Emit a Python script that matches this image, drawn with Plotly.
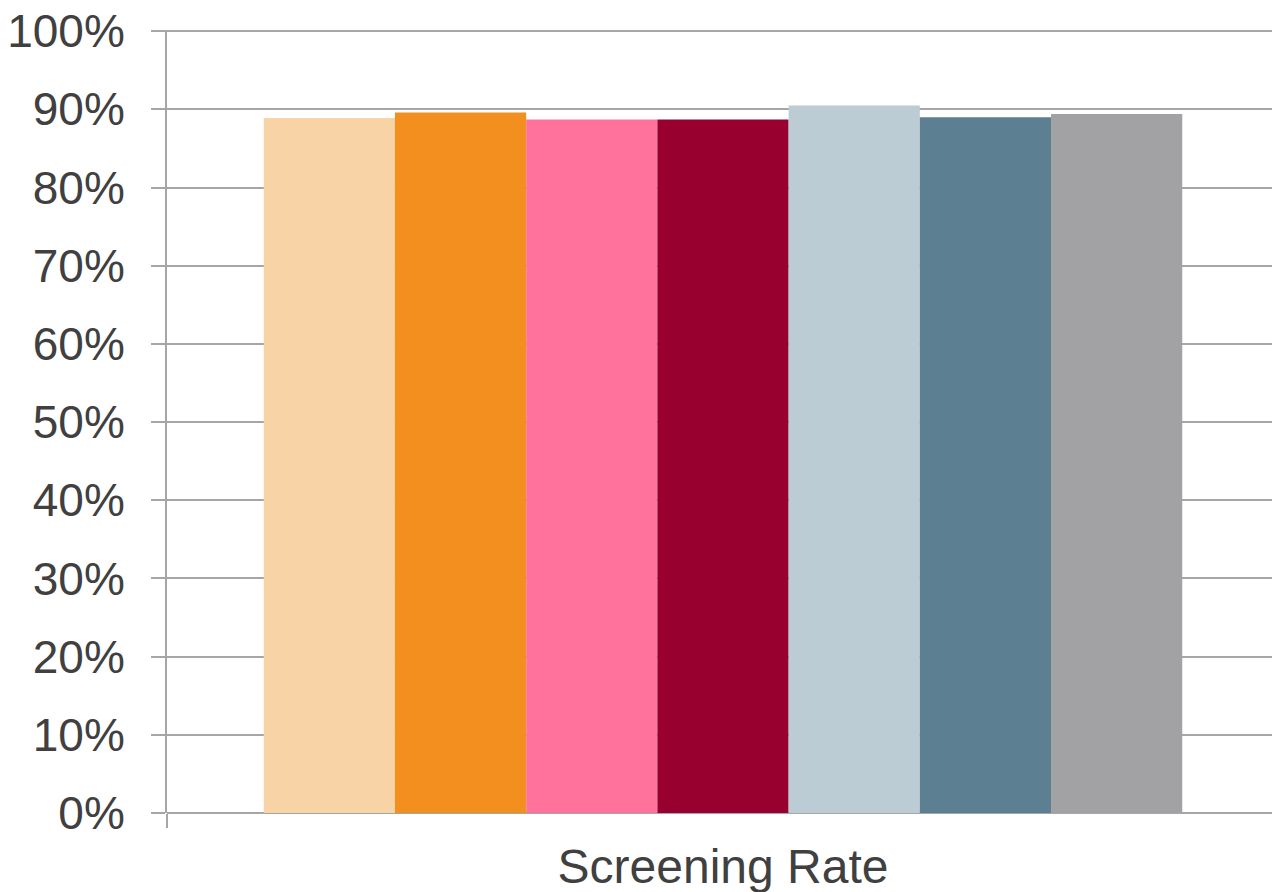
import plotly.graph_objects as go

# Screening rate by group (fraction of population screened)
category = ["Screening Rate"]
series_names = ["Group 1", "Group 2", "Group 3", "Group 4", "Group 5", "Group 6", "Group 7"]
series_values = [0.889, 0.896, 0.887, 0.887, 0.905, 0.890, 0.894]
series_colors = ["#F8D3A5", "#F28F1E", "#FF729B", "#980030", "#BCCCD4", "#5D7F92", "#A2A2A4"]
y_tick_values = [0, 0.1, 0.2, 0.3, 0.4, 0.5, 0.6, 0.7, 0.8, 0.9, 1.0]
y_tick_labels = ["0%", "10%", "20%", "30%", "40%", "50%", "60%", "70%", "80%", "90%", "100%"]

font_family = "Arial, Liberation Sans, sans-serif"
text_color = "#404040"
line_color = "#A6A6A6"

fig = go.Figure()
for name, val, col in zip(series_names, series_values, series_colors):
    fig.add_trace(go.Bar(
        x=category, y=[val], name=name,
        marker=dict(color=col, line=dict(width=0)),
        showlegend=False,
    ))

fig.update_layout(
    width=1272, height=892,
    margin=dict(l=167, r=0, t=30, b=79),
    paper_bgcolor="white", plot_bgcolor="white",
    barmode="group", bargap=0.174, bargroupgap=0,
    font=dict(family=font_family, color=text_color, size=46),
)

fig.update_xaxes(
    type="category",
    range=[-0.5, 0.4937],
    showgrid=False,
    showline=False,
    ticks="outside", tickson="boundaries", ticklen=14,
    tickcolor=line_color, tickwidth=2,
    tickfont=dict(size=48, color=text_color, family=font_family),
    ticklabelstandoff=21,
)

fig.update_yaxes(
    range=[0, 1.0015],
    tickvals=y_tick_values, ticktext=y_tick_labels,
    showgrid=True, gridcolor=line_color, gridwidth=1.5,
    zeroline=True, zerolinecolor=line_color, zerolinewidth=1.5,
    showline=True, linecolor=line_color, linewidth=2,
    ticks="outside", ticklen=14, tickcolor=line_color, tickwidth=1.5,
    tickfont=dict(size=46, color=text_color, family=font_family),
    ticklabelstandoff=17,
)

fig.write_html("out.html")
